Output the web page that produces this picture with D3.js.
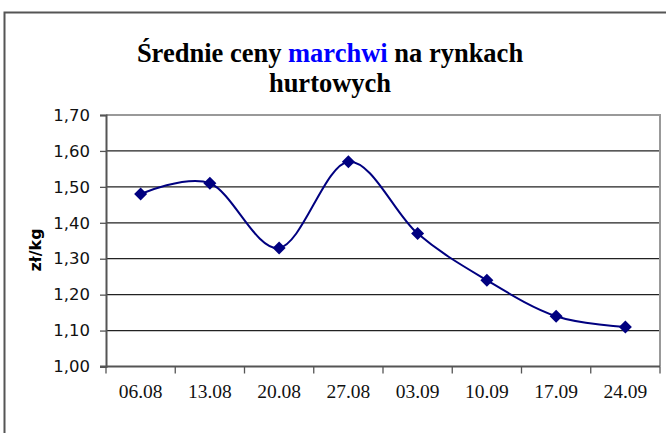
<!DOCTYPE html>
<head>
  <meta charset="utf-8">
  <script src="https://d3js.org/d3.v7.min.js"></script>
  <style>
    body { margin:0; background:#fff; }
    svg { display:block; }
  </style>
</head>
<body>
  <script>
    // data
    var weeks = ["06.08", "13.08", "20.08", "27.08", "03.09", "10.09", "17.09", "24.09"];
    var prices = [1.48, 1.51, 1.33, 1.57, 1.37, 1.24, 1.14, 1.11];
    var yTicks = [1.00, 1.10, 1.20, 1.30, 1.40, 1.50, 1.60, 1.70];

    var width = 666, height = 433;
    var plotLeft = 106, plotRight = 660, plotTop = 115, plotBottom = 366.5;

    var svg = d3.select("body").append("svg")
      .attr("width", width)
      .attr("height", height);

    // outer chart frame (only top and left visible)
    svg.append("path")
      .attr("d", "M4.5,433 L4.5,12.5 L666,12.5")
      .attr("fill", "none")
      .attr("stroke", "#555")
      .attr("stroke-width", 2);

    // title
    var title = svg.append("text")
      .attr("x", 330)
      .attr("y", 62)
      .attr("text-anchor", "middle")
      .style("font-family", "'Liberation Serif', 'Times New Roman', serif")
      .style("font-weight", "bold")
      .style("font-size", "26.5px");
    title.append("tspan").text("Średnie ceny ");
    title.append("tspan").attr("fill", "#0000ff").text("marchwi");
    title.append("tspan").text(" na rynkach");
    svg.append("text")
      .attr("x", 330)
      .attr("y", 92)
      .attr("text-anchor", "middle")
      .style("font-family", "'Liberation Serif', 'Times New Roman', serif")
      .style("font-weight", "bold")
      .style("font-size", "26.5px")
      .text("hurtowych");

    var x = d3.scaleBand().domain(weeks).range([plotLeft, plotRight]).padding(0);
    var y = d3.scaleLinear().domain([1.0, 1.7]).range([plotBottom, plotTop]);

    // gridlines
    svg.append("g")
      .selectAll("line")
      .data(yTicks.slice(1, -1))
      .enter().append("line")
      .attr("x1", plotLeft).attr("x2", plotRight)
      .attr("y1", function(d) { return y(d); })
      .attr("y2", function(d) { return y(d); })
      .attr("stroke", "#222")
      .attr("stroke-width", 1.3);

    // plot border top/right in gray
    svg.append("path")
      .attr("d", "M" + plotLeft + "," + y(1.7) + " L" + plotRight + "," + y(1.7) + " L" + plotRight + "," + plotBottom)
      .attr("fill", "none")
      .attr("stroke", "#999")
      .attr("stroke-width", 2);

    // y axis
    var fmt = function(d) { return d.toFixed(2).replace(".", ","); };
    var yAxis = svg.append("g")
      .attr("transform", "translate(" + plotLeft + ",0)")
      .call(d3.axisLeft(y).tickValues(yTicks).tickFormat(fmt).tickSize(6).tickPadding(10));
    yAxis.select(".domain").attr("stroke", "#555").attr("stroke-width", 2);
    yAxis.selectAll(".tick line").attr("stroke", "#555").attr("stroke-width", 1.3);
    yAxis.selectAll("text")
      .style("font-family", "'DejaVu Sans', Verdana, sans-serif")
      .style("font-size", "16.5px")
      .attr("fill", "#111");

    // x axis, ticks between categories
    var xAxis = svg.append("g")
      .attr("transform", "translate(0," + plotBottom + ")");
    xAxis.append("line")
      .attr("x1", plotLeft - 6).attr("x2", plotRight)
      .attr("stroke", "#555").attr("stroke-width", 2);
    xAxis.selectAll("line.tk")
      .data(weeks.concat(["end"]))
      .enter().append("line")
      .attr("class", "tk")
      .attr("x1", function(d, i) { return i < weeks.length ? x(d) : x.range()[1]; })
      .attr("x2", function(d, i) { return i < weeks.length ? x(d) : x.range()[1]; })
      .attr("y1", 0).attr("y2", 7)
      .attr("stroke", "#555").attr("stroke-width", 1.3);
    xAxis.selectAll("text")
      .data(weeks)
      .enter().append("text")
      .attr("x", function(d) { return x(d) + x.bandwidth() / 2; })
      .attr("y", 31.5)
      .attr("text-anchor", "middle")
      .style("font-family", "'Liberation Serif', 'Times New Roman', serif")
      .style("font-size", "19.5px")
      .attr("fill", "#111")
      .text(function(d) { return d; });

    // y axis title
    svg.append("text")
      .attr("transform", "translate(41,250) rotate(-90)")
      .attr("text-anchor", "middle")
      .style("font-family", "'DejaVu Sans', Verdana, sans-serif")
      .style("font-weight", "bold")
      .style("font-size", "16px")
      .text("zł/kg");

    // smoothed series line
    var pts = weeks.map(function(d, i) { return [x(d) + x.bandwidth() / 2, y(prices[i])]; });
    svg.append("path")
      .attr("d", d3.line().curve(d3.curveCardinal.tension(0))(pts))
      .attr("fill", "none")
      .attr("stroke", "#000080")
      .attr("stroke-width", 2);

    // diamond markers
    svg.append("g")
      .selectAll("path")
      .data(pts)
      .enter().append("path")
      .attr("transform", function(d) { return "translate(" + d[0] + "," + d[1] + ")"; })
      .attr("d", "M0,-6.5L6.5,0L0,6.5L-6.5,0Z")
      .attr("fill", "#000080");
  </script>
</body>
